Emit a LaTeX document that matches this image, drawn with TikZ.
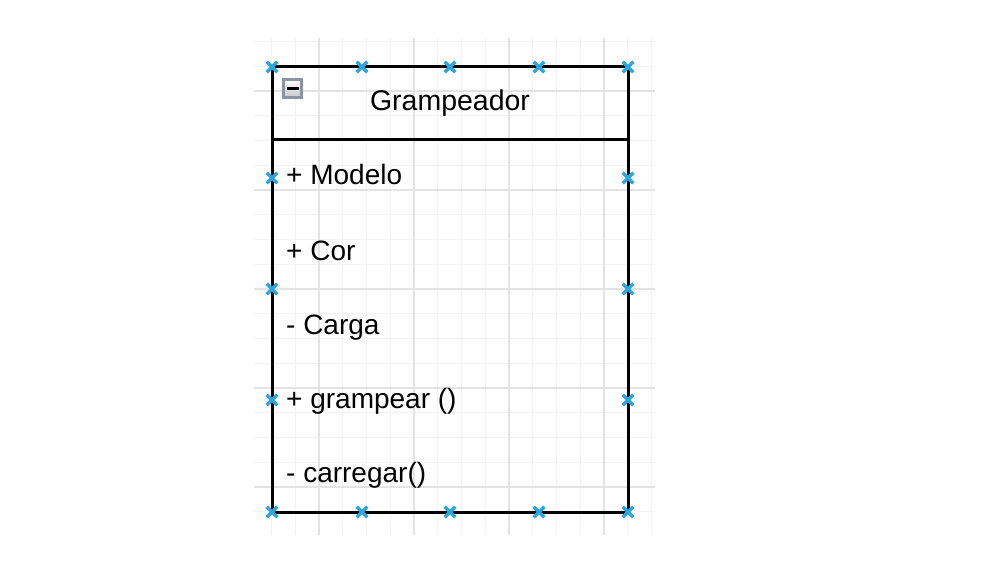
\documentclass[tikz,border=0pt]{standalone}
\usepackage{fontspec}
\setmainfont{Liberation Sans}
\usetikzlibrary{shapes.misc}
\definecolor{gridmajor}{HTML}{E3E3E3}
\definecolor{gridminor}{HTML}{F3F3F3}
\definecolor{handle}{HTML}{2AA7E0}
\definecolor{iconborder}{HTML}{8A94A2}
\begin{document}
\begin{tikzpicture}[x=1pt,y=-1pt,
  member/.style={anchor=base west,inner sep=0pt,font=\fontsize{28}{30}\selectfont},
  title/.style={anchor=base,inner sep=0pt,font=\fontsize{28.5}{30}\selectfont},
  handlemark/.style={cross out,draw=handle,line width=3.2pt,minimum size=7.5pt,inner sep=0pt},
  classline/.style={line width=3pt,draw=black}]
\useasboundingbox (0,0) rectangle (986,583);
\fill[white] (0,0) rectangle (986,583);
% grid
\begin{scope}
\clip (254,38) rectangle (655,535);
\foreach \i in {-3,...,14} {
  \draw[gridminor,line width=1.4pt] ({319+23.75*\i},38) -- ({319+23.75*\i},535);
}
\foreach \j in {-3,...,19} {
  \draw[gridminor,line width=1.4pt] (254,{91+24.75*\j}) -- (655,{91+24.75*\j});
}
\foreach \i in {-1,...,3} {
  \draw[gridmajor,line width=1.8pt] ({319+95*\i},38) -- ({319+95*\i},535);
}
\foreach \j in {-1,...,4} {
  \draw[gridmajor,line width=1.8pt] (254,{91+99*\j}) -- (655,{91+99*\j});
}
\end{scope}
% class box
\coordinate (nw) at (272,67);
\coordinate (se) at (628,512);
\coordinate (hl) at (272,140);
\coordinate (hr) at (628,140);
\draw[classline] (nw) rectangle (se);
\draw[classline] (hl) -- (hr);
% collapse icon
\node[draw=iconborder,line width=3pt,top color=white,bottom color=black!22,
  minimum width=18pt,minimum height=18pt,inner sep=0pt] (icon) at (292.5,88.5) {};
\fill[black] (286.5,86.8) rectangle (298.5,89.8);
% title and members
\node[title] (ttl) at (450,111) {Grampeador};
\node[member] (m1) at (286,185) {+ Modelo};
\node[member] (m2) at (286,260) {+ Cor};
\node[member] (m3) at (286,334) {- Carga};
\node[member] (m4) at (286,408) {+ grampear ()};
\node[member] (m5) at (286,482) {- carregar()};
% handles
\foreach \x [count=\k] in {272,362,450,539,628} {
  \node[handlemark] (ht\k) at (\x,67) {};
  \node[handlemark] (hb\k) at (\x,512) {};
}
\foreach \y [count=\k] in {178,289,400} {
  \node[handlemark] (hl\k) at (272,\y) {};
  \node[handlemark] (hr\k) at (628,\y) {};
}
\end{tikzpicture}
\end{document}
